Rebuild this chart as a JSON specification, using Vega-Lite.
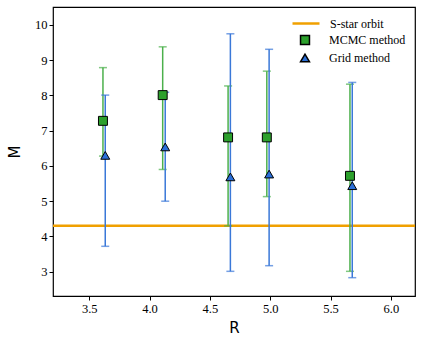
{
  "$schema": "https://vega.github.io/schema/vega-lite/v6.json",
  "width": 362,
  "height": 289,
  "autosize": {"type": "none"},
  "padding": {"left": 53, "top": 7, "right": 7, "bottom": 49},
  "background": "white",
  "config": {
    "view": {"stroke": "black", "strokeWidth": 1.2},
    "font": "Liberation Serif",
    "axis": {
      "grid": false, "domain": false, "tickColor": "black", "tickSize": 4,
      "labelFont": "Liberation Serif", "labelFontSize": 12.5, "labelColor": "black",
      "titleFont": "DejaVu Sans", "titleFontSize": 15, "titleFontWeight": "normal", "titleColor": "black"
    },
    "legend": {"labelFont": "Liberation Serif", "labelFontSize": 12, "labelColor": "black", "padding": 0}
  },
  "datasets": {
    "pts": [
      {"R": 3.614, "M": 7.28, "lo": 6.28, "hi": 8.79, "method": "MCMC method"},
      {"R": 4.109, "M": 8.01, "lo": 5.90, "hi": 9.38, "method": "MCMC method"},
      {"R": 4.651, "M": 6.81, "lo": 4.30, "hi": 8.27, "method": "MCMC method"},
      {"R": 4.972, "M": 6.81, "lo": 5.13, "hi": 8.69, "method": "MCMC method"},
      {"R": 5.661, "M": 5.72, "lo": 3.01, "hi": 8.32, "method": "MCMC method"},
      {"R": 3.633, "M": 6.30, "lo": 3.72, "hi": 8.01, "method": "Grid method"},
      {"R": 4.130, "M": 6.54, "lo": 5.00, "hi": 8.09, "method": "Grid method"},
      {"R": 4.670, "M": 5.69, "lo": 3.01, "hi": 9.75, "method": "Grid method"},
      {"R": 4.991, "M": 5.77, "lo": 3.17, "hi": 9.31, "method": "Grid method"},
      {"R": 5.680, "M": 5.44, "lo": 2.83, "hi": 8.37, "method": "Grid method"}
    ],
    "orbit": [{"M": 4.3, "label": "S-star orbit"}]
  },
  "encoding": {
    "x": {
      "field": "R", "type": "quantitative",
      "scale": {"domain": [3.2, 6.2], "nice": false, "zero": false},
      "axis": {"values": [3.5, 4.0, 4.5, 5.0, 5.5, 6.0], "format": ".1f", "title": "R", "titlePadding": 6,
        "labelFont": "Liberation Serif", "labelFontSize": 12.5}
    }
  },
  "layer": [
    {
      "data": {"name": "orbit"},
      "mark": {"type": "rule", "strokeWidth": 2.5},
      "encoding": {
        "x": null,
        "y": {"field": "M", "type": "quantitative",
          "scale": {"domain": [2.31, 10.51], "nice": false, "zero": false},
          "axis": {"values": [3, 4, 5, 6, 7, 8, 9, 10], "title": "M", "titlePadding": 12,
            "labelFont": "Liberation Serif", "labelFontSize": 12.5}},
        "stroke": {"field": "label", "type": "nominal",
          "scale": {"domain": ["S-star orbit"], "range": ["#f0a000"]},
          "legend": {"title": null, "orient": "none", "legendX": 238, "legendY": 1.5,
            "symbolType": "stroke", "symbolSize": 729, "symbolStrokeWidth": 2.5, "labelOffset": 9}}
      }
    },
    {
      "data": {"name": "pts"},
      "transform": [{"filter": "datum.method === 'MCMC method'"}],
      "layer": [
        {
          "mark": {"type": "rule", "strokeWidth": 1.5, "color": "#4cb04c"},
          "encoding": {"y": {"field": "lo", "type": "quantitative"}, "y2": {"field": "hi"}}
        },
        {
          "transform": [{"fold": ["lo", "hi"], "as": ["end", "val"]}],
          "mark": {"type": "tick", "orient": "horizontal", "size": 8, "thickness": 1.5, "color": "#4cb04c"},
          "encoding": {"y": {"field": "val", "type": "quantitative"}}
        }
      ]
    },
    {
      "data": {"name": "pts"},
      "transform": [{"filter": "datum.method === 'Grid method'"}],
      "layer": [
        {
          "mark": {"type": "rule", "strokeWidth": 1.5, "color": "#3a78d8"},
          "encoding": {"y": {"field": "lo", "type": "quantitative"}, "y2": {"field": "hi"}}
        },
        {
          "transform": [{"fold": ["lo", "hi"], "as": ["end", "val"]}],
          "mark": {"type": "tick", "orient": "horizontal", "size": 8, "thickness": 1.5, "color": "#3a78d8"},
          "encoding": {"y": {"field": "val", "type": "quantitative"}}
        }
      ]
    },
    {
      "data": {"name": "pts"},
      "mark": {"type": "point", "filled": true, "opacity": 1, "stroke": "black", "strokeWidth": 1, "size": 80},
      "encoding": {
        "y": {"field": "M", "type": "quantitative"},
        "color": {
          "field": "method", "type": "nominal",
          "scale": {"domain": ["MCMC method", "Grid method"], "range": ["#2ca02c", "#2a6fd8"]},
          "legend": {
            "title": null,
            "orient": "none",
            "legendX": 246,
            "legendY": 27,
            "symbolSize": 80,
            "rowPadding": 3,
            "labelOffset": 18,
            "labelFont": "Liberation Serif"
          }
        },
        "shape": {
          "field": "method", "type": "nominal",
          "scale": {"domain": ["MCMC method", "Grid method"], "range": ["square", "triangle-up"]}
        }
      }
    }
  ]
}
